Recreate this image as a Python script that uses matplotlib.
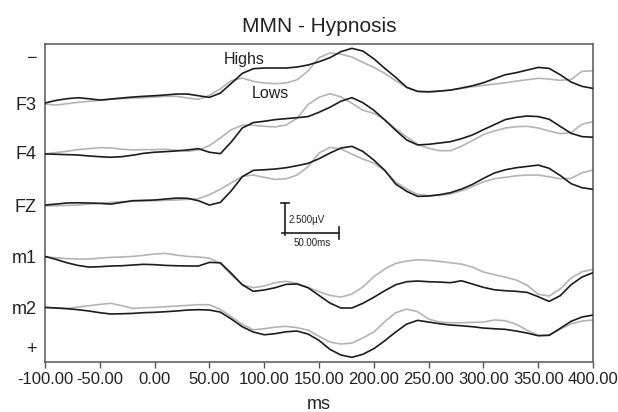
import numpy as np
import matplotlib
matplotlib.use("Agg")
import matplotlib.pyplot as plt

plt.rcParams['font.family'] = ['Liberation Sans', 'DejaVu Sans']

# time axis (ms)
times = list(range(-100, 401, 10))

# channel labels and EEG traces in µV (negative plotted upward)
channels = ["F3", "F4", "FZ", "m1", "m2"]

f3_highs = [0.00, -0.22, -0.36, -0.44, -0.36, -0.25, -0.33, -0.42, -0.50, -0.56, -0.61, -0.67, -0.75, -0.75,
            -0.61, -0.47, -0.83, -1.64, -2.47, -2.86, -2.92, -2.92, -2.92, -3.00, -3.17, -3.44, -3.78, -4.28,
            -4.56, -4.33, -3.69, -2.89, -2.14, -1.31, -0.97, -0.94, -1.00, -1.08, -1.25, -1.44, -1.69, -2.03,
            -2.36, -2.53, -2.75, -2.97, -2.89, -2.36, -1.75, -1.39, -1.22]
f3_lows = [0.08, 0.17, 0.06, -0.06, -0.14, -0.22, -0.31, -0.36, -0.42, -0.44, -0.50, -0.56, -0.56, -0.42,
           -0.31, -0.64, -1.19, -1.86, -2.08, -1.81, -1.67, -1.61, -1.67, -1.94, -2.67, -3.78, -4.17, -4.08,
           -3.83, -3.39, -2.97, -2.47, -1.86, -1.31, -0.97, -0.89, -0.97, -1.08, -1.22, -1.36, -1.47, -1.58,
           -1.69, -1.83, -1.94, -2.06, -2.00, -1.89, -1.97, -2.64, -2.69]

f4_highs = [0.08, 0.11, 0.14, 0.17, 0.25, 0.31, 0.36, 0.31, 0.19, 0.03, -0.06, -0.11, -0.17, -0.25,
            -0.36, -0.06, 0.06, -0.92, -2.08, -2.53, -2.64, -2.78, -2.86, -2.94, -3.03, -3.39, -3.81, -4.31,
            -4.61, -4.19, -3.56, -2.75, -1.89, -1.08, -0.67, -0.72, -0.83, -0.94, -1.19, -1.50, -1.94, -2.36,
            -2.78, -2.97, -3.08, -3.03, -2.81, -2.22, -1.64, -1.36, -1.31]
f4_lows = [0.08, -0.03, -0.14, -0.28, -0.36, -0.44, -0.42, -0.31, -0.25, -0.28, -0.28, -0.31, -0.22, -0.14,
           -0.25, -0.61, -1.25, -1.94, -2.31, -2.31, -2.22, -2.17, -2.33, -2.89, -4.03, -4.64, -4.94, -4.67,
           -4.14, -3.56, -3.31, -2.78, -2.00, -1.33, -0.72, -0.39, -0.19, -0.19, -0.56, -1.03, -1.53, -1.83,
           -2.08, -2.19, -2.22, -2.08, -1.83, -1.61, -1.69, -2.39, -2.61]

fz_highs = [0.00, -0.08, -0.17, -0.19, -0.17, -0.14, -0.08, -0.22, -0.36, -0.39, -0.42, -0.50, -0.58, -0.56,
            -0.36, 0.00, -0.22, -1.19, -2.36, -2.89, -2.94, -3.00, -3.11, -3.28, -3.47, -3.86, -4.33, -4.75,
            -4.89, -4.47, -3.75, -2.89, -1.75, -1.14, -0.72, -0.75, -0.86, -1.03, -1.33, -1.72, -2.22, -2.67,
            -2.94, -3.11, -3.22, -3.33, -3.06, -2.47, -1.78, -1.44, -1.31]
fz_lows = [0.08, 0.06, 0.03, 0.00, -0.08, -0.14, -0.22, -0.28, -0.31, -0.33, -0.36, -0.39, -0.42, -0.47,
           -0.53, -0.86, -1.31, -1.86, -2.39, -2.50, -2.31, -2.14, -2.19, -2.50, -3.19, -4.33, -4.81, -4.67,
           -4.25, -3.83, -3.50, -2.86, -1.92, -1.33, -0.89, -0.78, -0.81, -0.92, -1.19, -1.53, -1.94, -2.19,
           -2.31, -2.44, -2.50, -2.50, -2.36, -2.19, -2.22, -2.69, -2.92]

m1_highs = [0.03, 0.28, 0.56, 0.78, 0.92, 0.89, 0.83, 0.81, 0.75, 0.69, 0.72, 0.78, 0.81, 0.83,
            0.83, 0.53, 0.56, 1.44, 2.39, 2.94, 2.83, 2.64, 2.36, 2.33, 2.64, 3.28, 3.92, 4.33,
            4.33, 3.94, 3.44, 2.89, 2.39, 2.14, 2.08, 2.14, 2.17, 2.22, 2.06, 2.33, 2.61, 2.81,
            2.89, 2.94, 3.03, 3.39, 3.78, 3.31, 2.39, 1.75, 1.39]
m1_lows = [0.06, 0.14, 0.22, 0.25, 0.25, 0.17, 0.11, 0.08, 0.03, -0.06, -0.17, -0.22, -0.08, 0.03,
           0.08, 0.17, 0.64, 1.58, 2.39, 2.64, 2.50, 2.22, 2.11, 2.28, 2.61, 2.97, 3.28, 3.42,
           3.17, 2.58, 1.72, 1.08, 0.61, 0.42, 0.31, 0.36, 0.44, 0.56, 0.67, 0.92, 1.33, 1.56,
           1.75, 2.00, 2.44, 3.19, 3.33, 2.75, 1.83, 1.31, 1.11]

m2_highs = [0.03, 0.08, 0.14, 0.22, 0.33, 0.47, 0.58, 0.56, 0.53, 0.47, 0.44, 0.39, 0.33, 0.25,
            0.22, 0.25, 0.42, 1.00, 1.64, 2.08, 2.31, 2.22, 2.06, 2.00, 2.25, 2.78, 3.53, 4.00,
            4.19, 3.94, 3.47, 2.81, 2.08, 1.42, 1.11, 1.25, 1.39, 1.50, 1.56, 1.64, 1.75, 1.81,
            1.86, 2.00, 2.17, 2.39, 2.36, 1.78, 1.19, 0.83, 0.67]
m2_lows = [0.03, 0.08, 0.11, 0.00, -0.11, -0.22, -0.31, -0.11, 0.11, 0.06, 0.03, -0.03, -0.08, -0.14,
           -0.19, -0.19, 0.19, 0.81, 1.44, 1.89, 1.81, 1.67, 1.61, 1.72, 1.92, 2.44, 2.92, 3.08,
           3.00, 2.58, 2.08, 1.22, 0.47, 0.17, 0.39, 1.00, 1.25, 1.31, 1.31, 1.28, 1.25, 1.08,
           1.14, 1.44, 1.94, 2.36, 2.33, 1.86, 1.39, 1.17, 1.08]

highs = [f3_highs, f4_highs, fz_highs, m1_highs, m2_highs]
lows = [f3_lows, f4_lows, fz_lows, m1_lows, m2_lows]

x_ticks = [-100, -50, 0, 50, 100, 150, 200, 250, 300, 350, 400]
x_tick_labels = ["-100.00", "-50.00", "0.00", "50.00", "100.00", "150.00", "200.00",
                 "250.00", "300.00", "350.00", "400.00"]

# layout (vertical positions of channel baselines, µV units from top)
baselines = [4.92, 9.08, 13.42, 17.67, 21.92]
sign_positions = [1.08, 25.33]
sign_labels = ["\u2212", "+"]

fig = plt.figure(figsize=(6.18, 4.12), dpi=100)
ax = fig.add_axes([45 / 618, 1 - 362 / 412, 548 / 618, 318 / 412])

black = "#1c1c1c"
gray = "#b4b4b4"
t = np.array(times)
for base, hi, lo in zip(baselines, highs, lows):
    ax.plot(t, base + np.array(lo), color=gray, lw=1.2, solid_joinstyle='round', zorder=2)
    ax.plot(t, base + np.array(hi), color=black, lw=1.2, solid_joinstyle='round', zorder=3)

ax.set_xlim(-100, 400)
ax.set_ylim(26.5, 0)

ax.set_xticks(x_ticks)
ax.set_xticklabels(x_tick_labels, fontsize=12, color="#222222")
ax.tick_params(axis='x', direction='out', length=4, width=1.0, color="#555555", pad=3.5)

ax.set_yticks(sign_positions[:1] + baselines + sign_positions[1:])
ax.set_yticklabels(sign_labels[:1] + channels + sign_labels[1:], fontsize=13, color="#222222")
ax.tick_params(axis='y', length=0, pad=6)

for sp in ax.spines.values():
    sp.set_color("#555555")
    sp.set_linewidth(1.1)

ax.set_xlabel("ms", fontsize=13, color="#222222", labelpad=6)
fig.text(0.516, 1 - 31.5 / 412, "MMN - Hypnosis", ha='center', va='baseline', fontsize=15, color="#222222")

# series labels
ax.text(81.6, 1.28, "Highs", ha='center', va='center', fontsize=11.5, color="#222222")
ax.text(105.9, 4.11, "Lows", ha='center', va='center', fontsize=11.5, color="#222222")

# scale bar
ax.plot([119.0, 119.0], [13.25, 15.9], color=black, lw=1.2)
ax.plot([115.3, 122.7], [13.25, 13.25], color=black, lw=1.2)
ax.plot([116.5, 168.5], [15.72, 15.72], color=black, lw=1.2)
ax.plot([168.5, 168.5], [15.22, 16.22], color=black, lw=1.2)
ax.text(122.3, 14.67, "2.500\u00b5V", ha='left', va='center', fontsize=7, color="#222222")
ax.text(126.6, 16.6, "50.00ms", ha='left', va='center', fontsize=7, color="#222222")

fig.savefig("out.png", dpi=100)
